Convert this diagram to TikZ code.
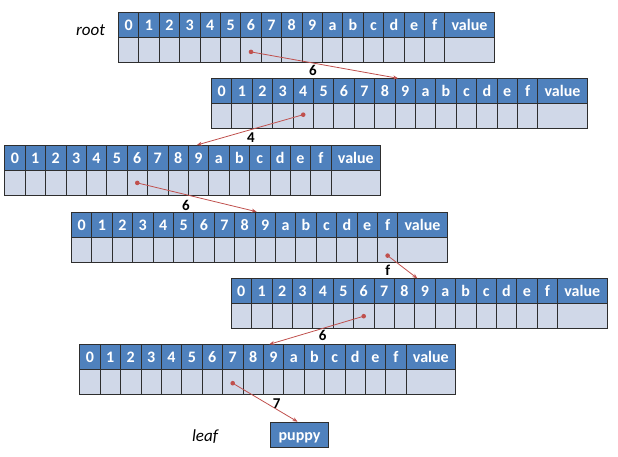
\documentclass[tikz,border=0pt]{standalone}
\usepackage{fontspec}
\setmainfont{Carlito}
\usetikzlibrary{calc,arrows.meta}
\definecolor{hblue}{HTML}{4F81BD}
\definecolor{lgray}{HTML}{D0D8E8}
\definecolor{bordc}{HTML}{2E2E2E}
\definecolor{ptrred}{HTML}{C0504D}
\tikzset{
  hcell/.style={draw=bordc, fill=hblue, minimum width=20.4pt, minimum height=25pt,
    inner sep=0pt, text=white, font=\bfseries\fontsize{16}{16}\selectfont,
    text height=11.5pt, text depth=0pt,
    anchor=north west, line width=0.8pt},
  lcell/.style={draw=bordc, fill=lgray, minimum width=20.4pt, minimum height=25pt,
    inner sep=0pt, anchor=north west, line width=0.8pt},
  ptr/.style={draw=ptrred, line width=0.8pt, -{Stealth[length=5pt,width=4pt]}},
  ptrdot/.style={fill=ptrred},
  edgelbl/.style={font=\bfseries\fontsize{15}{15}\selectfont, inner sep=0pt},
  sidelbl/.style={font=\itshape\fontsize{17}{17}\selectfont, inner sep=0pt},
}
\newcommand\trierow[3]{%
  \foreach \c [count=\i from 0] in {0,1,2,3,4,5,6,7,8,9,a,b,c,d,e,f} {
    \node[hcell] (#1h\c) at (#2+\i*20.4, #3) {\c};
    \node[lcell] (#1l\c) at (#2+\i*20.4, #3+25) {};
  }
  \node[hcell, minimum width=49.5pt] (#1hv) at (#2+16*20.4, #3) {value};
  \node[lcell, minimum width=49.5pt] (#1lv) at (#2+16*20.4, #3+25) {};
}
\begin{document}
\begin{tikzpicture}[x=1pt,y=-1pt]
\useasboundingbox (0,0) rectangle (618,456);
\trierow{ra}{118}{12}
\trierow{rb}{211}{78.3}
\trierow{rc}{4.3}{145}
\trierow{rd}{71}{211.7}
\trierow{re}{230.7}{278.3}
\trierow{rf}{79.3}{344.3}
\node[hcell, minimum width=58.3pt] (puppy) at (270,421.7) {puppy};

\node[sidelbl] (rootlbl) at (90.5,30) {root};
\node[sidelbl] (leaflbl) at (205,436.7) {leaf};

% pointer start points
\coordinate (sa) at ($(ral6.center)+(0,2)$);
\coordinate (sb) at ($(rbl4.center)+(0,-1.5)$);
\coordinate (sc) at ($(rcl6.center)$);
\coordinate (sd) at ($(rdlf.center)+(0,6)$);
\coordinate (se) at ($(rel6.center)$);
\coordinate (sf) at ($(rfl7.center)+(0,1)$);
% pointer end points
\coordinate (ea) at ($(rbh9.north west)+(3.5,0)$);
\coordinate (eb) at ($(rch9.north west)+(9,0)$);
\coordinate (ec) at ($(rdh9.north west)+(2,0)$);
\coordinate (ed) at ($(reh9.north west)+(3,0)$);
\coordinate (ee) at ($(rfh9.north west)+(6.4,0)$);
\coordinate (ef) at ($(puppy.north)+(-2,0)$);

\foreach \s/\e in {sa/ea,sb/eb,sc/ec,sd/ed,se/ee,sf/ef} {
  \fill[ptrdot] (\s) circle[radius=2.3pt];
  \draw[ptr] (\s) -- (\e);
}

\node[edgelbl] (la) at (313,70) {6};
\node[edgelbl] (lb) at (251,137.5) {4};
\node[edgelbl] (lc) at (186,205) {6};
\node[edgelbl] (ld) at (387.7,270) {f};
\node[edgelbl] (le) at (322.7,335) {6};
\node[edgelbl] (lf) at (276.7,403.3) {7};
\end{tikzpicture}
\end{document}
